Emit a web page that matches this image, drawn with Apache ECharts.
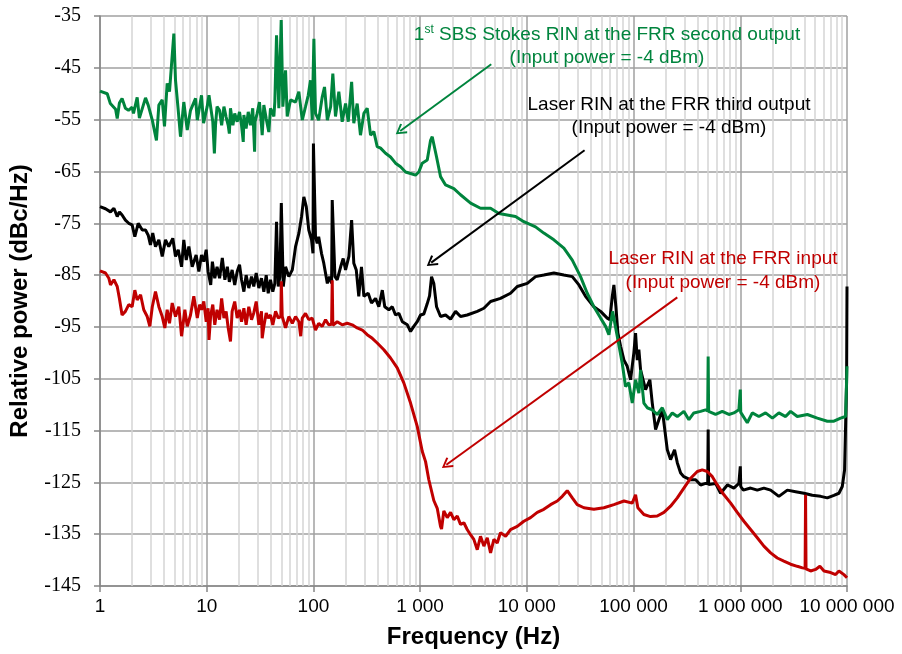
<!DOCTYPE html>
<html><head><meta charset="utf-8">
<script src="https://cdn.jsdelivr.net/npm/echarts@6/dist/echarts.min.js"></script>
<style>html,body{margin:0;padding:0;background:#fff}#c{width:902px;height:654px}</style>
</head><body><div id="c"></div>
<script>
// ---- axis ticks ----
const yTicks = [-145,-135,-125,-115,-105,-95,-85,-75,-65,-55,-45,-35];
const xDecades = [1,10,100,1000,10000,100000,1000000,10000000];
const minorMultipliers = [2,3,4,5,6,7,8,9];

// ---- annotation texts ----
const stokesLabel = ['1', 'st', ' SBS Stokes RIN at the FRR second output', '(Input power = -4 dBm)'];
const thirdLabel = ['Laser RIN at the FRR third output', '(Input power = -4 dBm)'];
const inputLabel = ['Laser RIN at the FRR input', '(Input power = -4 dBm)'];

// ---- arrows (data coordinates: [frequency Hz, dBc/Hz]) ----
const stokesArrow = [[4637,-44.3],[650,-57.2]];
const thirdArrow = [[34750,-60.9],[1270,-82.6]];
const inputArrow = [[256900,-89.3],[1760,-121.6]];

// ---- series: [frequency (Hz), relative power (dBc/Hz)] ----
const stokesRin = [[1,-49.5],[1.17,-50],[1.25,-51.9],[1.40,-53],[1.45,-54.8],[1.52,-51.8],[1.61,-50.9],[1.73,-52.8],[1.85,-53.2],[2.0,-52.6],[2.06,-53.8],[2.23,-50.7],[2.34,-54.7],[2.67,-50.8],[2.83,-52.2],[3.09,-55.1],[3.38,-59],[3.56,-52.2],[3.83,-51.2],[4.02,-56.3],[4.26,-48],[4.48,-49.6],[4.92,-38.4],[5.10,-47.4],[5.41,-53.2],[5.68,-58.3],[6.1,-51.6],[6.57,-57],[7.05,-53.2],[7.86,-50.9],[8.16,-55.1],[8.94,-50.3],[9.34,-55.7],[10.1,-52.5],[10.5,-50.3],[10.9,-50],[11.4,-55.4],[11.8,-61.5],[12.1,-56],[12.5,-52.5],[13.2,-53.2],[13.8,-56.1],[14.5,-52.5],[15.2,-54.5],[15.9,-56.1],[16.3,-57.7],[16.7,-52.8],[17.6,-56.1],[18.3,-53.8],[19.3,-55.4],[20.3,-53.5],[21.2,-56.1],[22.0,-59.3],[22.3,-54.1],[23.4,-56.7],[24.5,-53.5],[25.7,-56.1],[27.0,-52.8],[28.1,-61.2],[28.4,-55.4],[29.7,-53.8],[31.2,-51.6],[32.6,-56.1],[33.1,-58],[34.3,-52.2],[36.1,-54.8],[38.2,-57.4],[39.6,-52.8],[41.6,-53.8],[42.6,-54.4],[43.5,-51.5],[45.1,-38.7],[47.4,-52.8],[49.9,-35.8],[51.7,-52.5],[54.8,-45.5],[56.8,-54.4],[61,-51.2],[68,-51.6],[73,-49.6],[78.6,-55.1],[84.3,-52.5],[89.4,-50.3],[93.9,-47.4],[97.4,-55.1],[101,-39.4],[104.6,-53.8],[112,-55.1],[121,-50.6],[127,-48.7],[135,-55.1],[145,-52.5],[152,-46.1],[161,-54.4],[173,-49.6],[186,-55.4],[200,-51.9],[212,-55.4],[228,-47.7],[239,-55.7],[257,-51.9],[276,-58],[297,-53.8],[319,-52.8],[343,-58],[368,-57.3],[396,-60.2],[426,-60.5],[474,-61.5],[528,-62.2],[588,-63.4],[655,-64.1],[730,-65.1],[813,-65.4],[905,-65.7],[972,-65.1],[1046,-63.4],[1166,-62.8],[1252,-59],[1298,-58.3],[1425,-62.2],[1553,-66],[1730,-67.6],[2070,-68.3],[2390,-69.5],[2970,-71.1],[3680,-72.1],[4570,-72.1],[5470,-73.1],[6550,-73.4],[7830,-73.7],[9370,-74.7],[12060,-75.7],[14420,-76.9],[17910,-78.2],[22220,-79.8],[26650,-82.1],[31850,-85.3],[36800,-88.5],[42450,-91.1],[49100,-93.3],[54700,-94.9],[58700,-96.5],[63600,-92],[70300,-96.8],[78300,-102],[84100,-106.5],[90300,-105.8],[97200,-109.7],[104400,-105.2],[112100,-107.8],[116300,-103.3],[124900,-109.7],[134300,-110.6],[149700,-111],[166700,-111.9],[185800,-110.6],[207000,-112.9],[230500,-111.6],[256800,-112.3],[296000,-111.3],[330000,-112.9],[367000,-111.6],[425000,-111.3],[473000,-111],[495000,-111.2],[500000,-100.7],[505000,-111.3],[516000,-111.3],[587000,-111.9],[678000,-111.3],[782000,-111.9],[871000,-111.6],[970000,-111],[990000,-111.3],[1000000,-107.1],[1010000,-111.5],[1044000,-111.3],[1163000,-113.5],[1296000,-111.6],[1493000,-112.3],[1726000,-111.6],[2000000,-112.6],[2300000,-111.6],[2660000,-112.3],[2960000,-111.3],[3420000,-112.3],[4250000,-111.9],[5270000,-112.6],[6540000,-113.2],[7540000,-113.2],[8710000,-112.6],[9700000,-112.3],[10000000,-102.6]];

const thirdOutputRin = [[1,-71.8],[1.126,-72.2],[1.254,-72.8],[1.35,-72.1],[1.45,-73.7],[1.52,-72.8],[1.61,-73.4],[1.73,-74.4],[1.86,-75],[2.0,-75.3],[2.12,-77.6],[2.28,-75],[2.49,-76.3],[2.67,-76.3],[2.83,-77.3],[2.97,-79.2],[3.12,-76.9],[3.31,-79.5],[3.56,-78.2],[3.83,-81.4],[4.11,-78.2],[4.41,-79.5],[4.81,-77.9],[5.10,-81.4],[5.41,-80.1],[5.81,-83.4],[6.1,-78.2],[6.43,-82.1],[6.80,-79.5],[7.31,-83.4],[7.96,-81.1],[8.44,-84.3],[8.94,-81.1],[9.39,-82.4],[9.89,-80.1],[10.3,-84.3],[10.9,-86.9],[11.3,-82.4],[11.9,-85.6],[12.5,-83.4],[13.2,-85.6],[14.0,-81.7],[14.8,-85.9],[15.6,-83.4],[16.3,-86.3],[17.3,-84],[18.3,-86.9],[19.3,-84.3],[20.3,-83],[21.2,-85.9],[22.3,-88.2],[23.4,-85],[24.8,-87.5],[26.3,-85.3],[27.6,-87.2],[29.1,-84.6],[30.8,-87.5],[32.6,-85.6],[34.3,-88.2],[36.1,-85],[37.7,-88.5],[39.6,-85.9],[41.6,-88.2],[43.5,-86.6],[45.1,-74.7],[46.8,-87.2],[48.5,-85.3],[50,-71.1],[52.2,-87.2],[54.8,-83.4],[58.8,-85.3],[63.4,-84],[68,-79.5],[73.1,-76.9],[77.4,-73.7],[81.3,-69.9],[85.7,-71.8],[90.5,-76.3],[96,-78.2],[99,-80.8],[100,-59.6],[104.6,-77.6],[108.5,-78.9],[112,-77.6],[119,-80.8],[125,-82.7],[135,-86.6],[141.5,-85.3],[148,-86.6],[150,-70.5],[159,-85.3],[167,-85.9],[180,-83.4],[190,-81.8],[200,-84],[215,-81.4],[228,-74.4],[239,-82.7],[252,-84],[266,-89.1],[282,-83.4],[297,-89.1],[326,-88.5],[350,-90.4],[382,-89.5],[410,-91.1],[442,-87.9],[466,-91.1],[509,-91.7],[548,-91.1],[588,-92.7],[632,-92.4],[681,-94],[759,-94.6],[813,-95.9],[872,-94.9],[939,-94],[1009,-92.7],[1083,-92.5],[1166,-90.5],[1225,-89],[1279,-85.3],[1343,-86.6],[1425,-91.1],[1553,-93],[1730,-92.7],[1928,-93.5],[2148,-92],[2390,-93],[2760,-92.7],[3430,-92],[3955,-91.4],[4570,-90.1],[5660,-89.5],[7030,-88.5],[8130,-87.2],[10090,-86.6],[12060,-85.3],[14420,-85],[17910,-84.6],[22220,-85],[26650,-85.3],[30750,-86.9],[35470,-89.1],[42450,-91.1],[49100,-92],[56630,-93.3],[59950,-93.6],[63160,-89.1],[65400,-86.9],[68300,-91.1],[71320,-96.2],[75700,-98.8],[81300,-101.4],[87200,-102.6],[93700,-105.2],[100600,-100],[104400,-96.2],[108300,-101.4],[112100,-99.4],[116300,-103.3],[120600,-103.3],[129600,-107.1],[142100,-105.2],[149700,-109.7],[160800,-114.8],[172600,-112.9],[185800,-111],[192500,-113.5],[207000,-118.7],[222200,-120.6],[242100,-118.7],[256800,-121.2],[276000,-123.2],[296000,-123.9],[342600,-124.5],[381900,-124.5],[425000,-125.5],[473000,-125.2],[495000,-125.3],[500000,-114.8],[505000,-125.4],[516000,-125.5],[587000,-125.2],[654000,-127.1],[757000,-125.5],[871000,-126.1],[970000,-125.2],[990000,-125.5],[1000000,-121.9],[1010000,-125.8],[1067000,-126.5],[1249000,-126.1],[1443000,-126.5],[1664000,-126.1],[1925000,-126.5],[2300000,-127.7],[2760000,-126.5],[3300000,-126.8],[3947000,-127.1],[4730000,-127.5],[5660000,-127.7],[6540000,-128],[7540000,-127.5],[8400000,-127.1],[9030000,-125.8],[9490000,-122.6],[9910000,-105.8],[10000000,-87.2]];

const inputRin = [[1,-84.2],[1.126,-84.6],[1.21,-85.6],[1.254,-86.9],[1.35,-85.9],[1.45,-87.2],[1.52,-89.5],[1.61,-92.7],[1.73,-92],[1.86,-90.7],[2.0,-91.1],[2.12,-87.9],[2.23,-89.8],[2.40,-88.8],[2.57,-91.7],[2.77,-93],[2.93,-94.9],[3.09,-91.1],[3.31,-88.2],[3.56,-91.1],[3.83,-93],[4.05,-95.2],[4.26,-91.7],[4.48,-94.3],[4.75,-90.4],[5.10,-93],[5.48,-91.1],[5.81,-96.8],[6.24,-91.7],[6.57,-94.9],[7.05,-92.7],[7.57,-89.1],[7.86,-88.8],[8.16,-93.3],[8.57,-90.7],[8.94,-91.7],[9.39,-90.1],[9.89,-94],[10.3,-91.4],[10.5,-97.5],[10.9,-92.7],[11.4,-90.7],[11.9,-94.6],[12.5,-91.7],[13.2,-93.6],[13.8,-89.5],[14.5,-93.3],[15.2,-92],[15.9,-95.2],[16.7,-97.8],[17.3,-92],[18.3,-90.1],[19.3,-93.3],[20.3,-91.7],[21.2,-94],[22.3,-91.4],[23.4,-94.6],[24.8,-91.1],[26.3,-93.6],[27.6,-92.3],[29.1,-90.1],[30.8,-94.6],[32.6,-92],[33.1,-97.2],[34.3,-94.9],[36.1,-92.3],[37.7,-93.3],[39.6,-92.7],[41.6,-94.6],[44.2,-92],[46.9,-93.3],[49.5,-93],[50,-86.2],[51,-93],[54.8,-95.2],[58.8,-93],[63.4,-94.3],[68,-93],[73.1,-94],[76,-96.8],[78.6,-93.3],[84.3,-92.4],[90.5,-93.6],[97.4,-93.3],[104.6,-95.6],[112,-94.3],[121,-94.9],[130,-93.6],[139,-94.6],[148,-94.5],[150,-86],[152,-94.7],[155,-94.9],[167,-94],[186,-94.6],[207,-94.3],[231,-94.6],[257,-95.2],[287,-95.6],[319,-96.5],[356,-97.2],[396,-98.1],[457,-99.4],[528,-101],[610,-102.9],[703,-105.8],[813,-109.7],[939,-114.2],[1046,-119],[1124,-121],[1206,-124.5],[1343,-128.5],[1446,-130],[1553,-133.5],[1587,-134],[1667,-130.5],[1795,-131.8],[1928,-130.8],[2070,-132.2],[2227,-131.5],[2390,-133.1],[2569,-132.8],[2760,-134.1],[2965,-135.1],[3185,-136],[3430,-138],[3680,-135.4],[3955,-137.3],[4255,-135.7],[4570,-138.6],[4910,-136],[5280,-136.7],[5660,-134.7],[6320,-135.4],[7030,-134.1],[8130,-133.5],[9370,-132.5],[10830,-131.8],[12520,-130.8],[14420,-130.2],[16670,-129.3],[19280,-128.6],[21480,-127.7],[23900,-126.6],[26650,-128],[29650,-129.3],[34230,-129.9],[42450,-130.2],[52700,-129.9],[65400,-129.3],[81300,-128.6],[97200,-129],[104400,-127.4],[109700,-129.9],[124900,-131.2],[144200,-131.6],[166700,-131.5],[192500,-130.8],[222200,-129.6],[256800,-128],[296000,-126.1],[342600,-124.2],[395500,-122.9],[440000,-122.6],[491000,-122.9],[547000,-123.9],[609000,-125.5],[703000,-127.4],[813000,-129],[937000,-130.8],[1081000,-132.5],[1249000,-134.1],[1443000,-135.7],[1664000,-137.3],[1925000,-138.6],[2222000,-139.6],[2560000,-140.2],[2960000,-140.8],[3420000,-141.2],[3819000,-141.5],[4050000,-141.6],[4090000,-127.4],[4130000,-141.7],[4560000,-142.1],[5080000,-141.8],[5570000,-141.2],[6090000,-142.1],[7030000,-142.4],[7820000,-142.8],[8400000,-142.1],[9360000,-142.8],[10000000,-143.4]];

// ---- styles ----
const GREEN = '#00843D', BLACK = '#000000', RED = '#C00000';
const SANS = '"Liberation Sans", Arial, sans-serif';
const SERIF = '"Liberation Serif", "Times New Roman", serif';
const chevron = 'path://M5,0 L10,8 L8.6,9 L5,2.8 L1.4,9 L0,8 Z';

const minorFreqs = [];
xDecades.slice(0, -1).forEach(d => minorMultipliers.forEach(m => minorFreqs.push(d * m)));

function fmtFreq(v) {
  const n = Math.round(v);
  return String(n).replace(/\B(?=(\d{3})+(?!\d))/g, ' ');
}
function arrowLine(a, color) {
  return {
    silent: true, animation: false, z: 6,
    symbol: ['none', chevron], symbolSize: [12, 11],
    lineStyle: { color: color, width: 2, type: 'solid' },
    label: { show: false }, emphasis: { disabled: true },
    data: [[{ coord: a[0] }, { coord: a[1] }]]
  };
}
function plainText(x, y, text, color) {
  return { type: 'text', x: x, y: y, z: 100,
    style: { text: text, font: '19px ' + SANS, fill: color, align: 'center', verticalAlign: 'middle' } };
}

const chart = echarts.init(document.getElementById('c'), null, { renderer: 'canvas' });
const option = {
  animation: false,
  backgroundColor: '#ffffff',
  grid: { left: 100, right: 55, top: 16, bottom: 67, containLabel: false },
  xAxis: {
    type: 'log', logBase: 10, min: 1, max: 10000000, splitNumber: 7,
    name: 'Frequency (Hz)', nameLocation: 'middle', nameGap: 39,
    nameTextStyle: { fontFamily: SANS, fontWeight: 'bold', fontSize: 24, color: '#000' },
    axisLine: { show: true, onZero: false, lineStyle: { color: '#868686', width: 1.5 } },
    axisTick: { show: true, length: 6, lineStyle: { color: '#868686', width: 1.5 } },
    axisLabel: { formatter: fmtFreq, fontFamily: SANS, fontSize: 19, color: '#000', margin: 11, interval: 0, hideOverlap: false, showMinLabel: true, showMaxLabel: true },
    splitLine: { show: true, lineStyle: { color: '#A0A0A0', width: 1.5 } },
    minorTick: { show: false }, minorSplitLine: { show: false }
  },
  yAxis: {
    type: 'value', min: yTicks[0], max: yTicks[yTicks.length - 1], interval: 10,
    name: 'Relative power (dBc/Hz)', nameLocation: 'middle', nameGap: 68,
    nameTextStyle: { fontFamily: SANS, fontWeight: 'bold', fontSize: 24, color: '#000' },
    axisLine: { show: true, lineStyle: { color: '#868686', width: 1.5 } },
    axisTick: { show: true, length: 6, lineStyle: { color: '#868686', width: 1.5 } },
    axisLabel: { fontFamily: SERIF, fontSize: 20, color: '#000', margin: 19 },
    splitLine: { show: true, lineStyle: { color: '#A0A0A0', width: 1.5 } }
  },
  graphic: [
    { type: 'text', x: 607, y: 35, z: 100,
      style: { text: '{a|' + stokesLabel[0] + '}{s|' + stokesLabel[1] + '}{a|' + stokesLabel[2] + '}',
        align: 'center', verticalAlign: 'middle',
        rich: { a: { fontFamily: SANS, fontSize: 19, fill: GREEN, color: GREEN, lineHeight: 23 },
                s: { fontFamily: SANS, fontSize: 12, fill: GREEN, color: GREEN, lineHeight: 23, verticalAlign: 'top' } } } },
    plainText(607, 58, stokesLabel[3], GREEN),
    plainText(669, 105, thirdLabel[0], BLACK),
    plainText(669, 128, thirdLabel[1], BLACK),
    plainText(723, 259, inputLabel[0], RED),
    plainText(723, 283, inputLabel[1], RED)
  ],
  series: [
    { name: 'grid', type: 'line', data: [], silent: true,
      markLine: { silent: true, animation: false, z: 1, symbol: ['none', 'none'],
        lineStyle: { color: '#D4D4D4', width: 1.5, type: 'solid' }, label: { show: false },
        emphasis: { disabled: true },
        data: minorFreqs.map(f => ({ xAxis: f })) } },
    { name: 'Laser RIN at the FRR third output', type: 'line', data: thirdOutputRin, showSymbol: false, symbol: 'none',
      lineStyle: { color: BLACK, width: 3 }, itemStyle: { color: BLACK }, z: 3, silent: true,
      markLine: arrowLine(thirdArrow, BLACK) },
    { name: 'Laser RIN at the FRR input', type: 'line', data: inputRin, showSymbol: false, symbol: 'none',
      lineStyle: { color: RED, width: 3 }, itemStyle: { color: RED }, z: 3, silent: true,
      markLine: arrowLine(inputArrow, RED) },
    { name: '1st SBS Stokes RIN at the FRR second output', type: 'line', data: stokesRin, showSymbol: false, symbol: 'none',
      lineStyle: { color: GREEN, width: 3 }, itemStyle: { color: GREEN }, z: 3, silent: true,
      markLine: arrowLine(stokesArrow, GREEN) }
  ]
};
chart.setOption(option);
</script>
</body></html>
